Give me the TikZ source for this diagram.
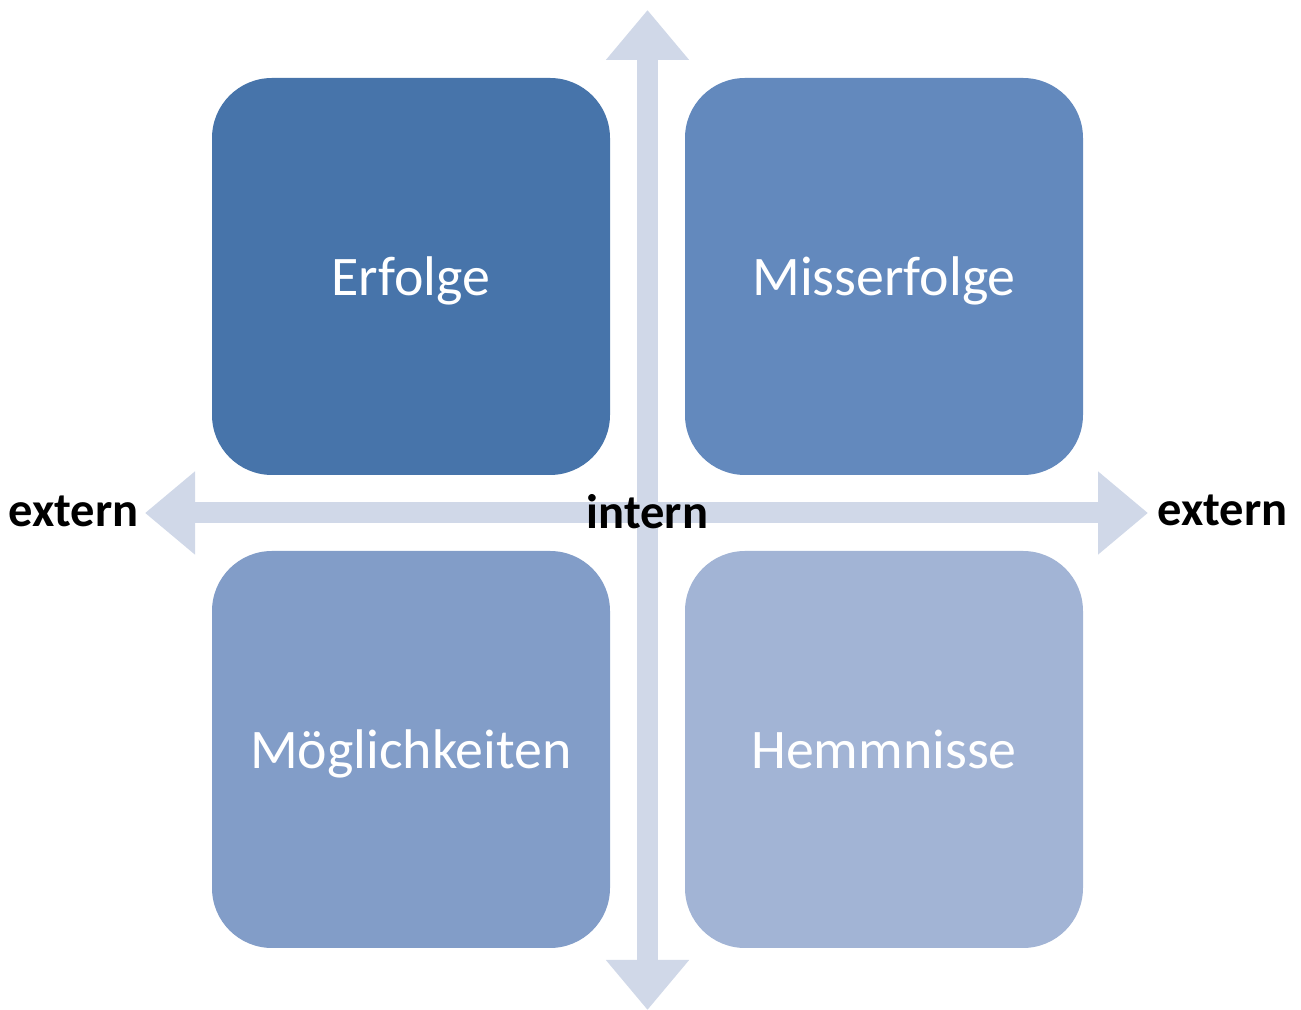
\documentclass[tikz,border=0pt]{standalone}
\usepackage{fontspec}
\setmainfont{Carlito}
\usetikzlibrary{arrows.meta}
\definecolor{erfolg}{RGB}{71,116,170}
\definecolor{misserfolg}{RGB}{99,137,189}
\definecolor{moeglich}{RGB}{130,157,200}
\definecolor{hemmnis}{RGB}{162,180,213}
\definecolor{achse}{RGB}{208,216,232}
\begin{document}
\begin{tikzpicture}[quad/.style = {fill, rounded corners=0.6cm, minimum width=3.98cm, minimum height=3.97cm, text height=0.5cm, text depth=0.11cm, text=white, font=\fontsize{15.9}{18}\selectfont},
    axis/.style = {draw=achse, line width=0.21cm, {Triangle[width=0.8cm,length=0.5cm]}-{Triangle[width=0.8cm,length=0.5cm]}},
    lbl/.style = {font=\fontsize{13.8}{16}\selectfont\bfseries, inner sep=0pt}]
    \useasboundingbox (0,0) rectangle (13.01,10.10);
    \coordinate (axtop) at (6.475,10.00);
    \coordinate (axbot) at (6.475,0.00);
    \coordinate (axleft) at (1.45,4.97);
    \coordinate (axright) at (11.48,4.97);
    \draw[axis] (axleft) -- (axright);
    \draw[axis] (axbot) -- (axtop);
    \node[quad, fill=erfolg] (erf) at (4.11,7.335) {Erfolge};
    \node[quad, fill=misserfolg] (miss) at (8.84,7.335) {Misserfolge};
    \node[quad, fill=moeglich] (moeg) at (4.11,2.605) {Möglichkeiten};
    \node[quad, fill=hemmnis] (hemm) at (8.84,2.605) {Hemmnisse};
    \node[lbl, anchor=east, xshift=-0.06cm, yshift=0.02cm] (extl) at (axleft) {extern};
    \node[lbl, anchor=west, xshift=0.09cm, yshift=0.03cm] (extr) at (axright) {extern};
    \node[lbl] (int) at (6.475,4.98) {intern};
\end{tikzpicture}
\end{document}
